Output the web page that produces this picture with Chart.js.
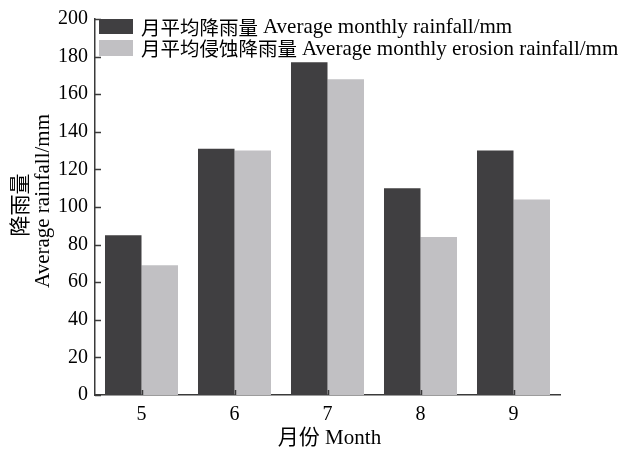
<!DOCTYPE html>
<html><head><meta charset="utf-8">
<script src="https://cdn.jsdelivr.net/npm/chart.js@4.4.0/dist/chart.umd.min.js"></script>
<style>html,body{margin:0;padding:0;background:#fff}#wrap{width:624px;height:450px}</style>
</head><body><div id="wrap"><canvas id="c"></canvas></div>
<script>
const months = ['5', '6', '7', '8', '9'];
const rainfall = [85, 131, 177, 110, 130];
const erosionRainfall = [69, 130, 168, 84, 104];
const yTicks = [0, 20, 40, 60, 80, 100, 120, 140, 160, 180, 200];
const seriesNames = ['月平均降雨量 Average monthly rainfall/mm', '月平均侵蚀降雨量 Average monthly erosion rainfall/mm'];
const xTitle = '月份 Month';
const yTitle = ['降雨量', 'Average rainfall/mm'];

const FONT = '"Liberation Serif", "Times New Roman", "Noto Sans CJK SC", serif';
const CJK = '"Noto Sans CJK SC", serif';
const DARK = '#403f41';
const LIGHT = '#c1c0c3';
const AXIS = '#3a3a3a';

const deco = {
  id: 'deco',
  afterDraw(chart) {
    const ctx = chart.ctx;
    const ca = chart.chartArea;
    const xs = chart.scales.x, ys = chart.scales.y;
    ctx.save();
    ctx.strokeStyle = AXIS;
    ctx.lineWidth = 1.5;
    // y ticks inward
    yTicks.forEach(v => {
      const y = Math.round(ys.getPixelForValue(v)) + 0.5;
      ctx.beginPath(); ctx.moveTo(ca.left, y); ctx.lineTo(ca.left + 6, y); ctx.stroke();
    });
    // x ticks upward
    months.forEach((m, i) => {
      const x = Math.round(xs.getPixelForValue(i)) + 0.5;
      ctx.beginPath(); ctx.moveTo(x, ca.bottom); ctx.lineTo(x, ca.bottom - 5); ctx.stroke();
    });
    // legend
    const ds = chart.data.datasets;
    const rows = [{y: 19, h: 15}, {y: 40, h: 16}];
    ctx.textBaseline = 'middle';
    ctx.textAlign = 'left';
    ds.forEach((d, i) => {
      ctx.fillStyle = d.backgroundColor;
      ctx.fillRect(99, rows[i].y, 34, rows[i].h);
      ctx.fillStyle = '#000';
      const sp = d.label.indexOf(' ');
      const zh = d.label.slice(0, sp), en = d.label.slice(sp + 1);
      const ym = rows[i].y + rows[i].h / 2 + 1;
      ctx.font = '19.5px ' + CJK;
      ctx.fillText(zh, 141, ym);
      const w = ctx.measureText(zh).width;
      ctx.font = '21px ' + FONT;
      ctx.fillText(en, 141 + w + 5, ym);
    });
    // x title
    ctx.font = '21px ' + FONT;
    ctx.textAlign = 'center';
    ctx.fillText(xTitle, (ca.left + ca.right) / 2 + 2, 438);
    // y title
    ctx.save();
    ctx.translate(19, 205);
    ctx.rotate(-Math.PI / 2);
    ctx.font = '21px ' + CJK;
    ctx.fillText(yTitle[0], 0, 0);
    ctx.restore();
    ctx.translate(43, 201);
    ctx.rotate(-Math.PI / 2);
    ctx.font = '21px ' + FONT;
    ctx.fillText(yTitle[1], 0, 0);
    ctx.restore();
  }
};

new Chart(document.getElementById('c'), {
  type: 'bar',
  data: {
    labels: months,
    datasets: [
      {label: seriesNames[0], data: rainfall, backgroundColor: DARK, borderWidth: 0},
      {label: seriesNames[1], data: erosionRainfall, backgroundColor: LIGHT, borderWidth: 0}
    ]
  },
  options: {
    responsive: true,
    maintainAspectRatio: false,
    animation: false,
    layout: {padding: {top: 18, right: 64, left: 0, bottom: 0}},
    plugins: {legend: {display: false}, tooltip: {enabled: false}},
    datasets: {bar: {categoryPercentage: 0.785, barPercentage: 1}},
    scales: {
      x: {
        grid: {display: false, drawTicks: false},
        border: {display: true, color: AXIS, width: 1.5},
        ticks: {font: {family: FONT, size: 20}, color: '#000', padding: 8},
        afterFit(s) { s.height = 55; }
      },
      y: {
        min: 0, max: 200,
        grid: {display: false, drawTicks: false},
        border: {display: true, color: AXIS, width: 1.5},
        ticks: {stepSize: 20, font: {family: FONT, size: 20}, color: '#000', padding: 7},
        afterFit(s) { s.width = 95; }
      }
    }
  },
  plugins: [deco]
});
</script></body></html>
